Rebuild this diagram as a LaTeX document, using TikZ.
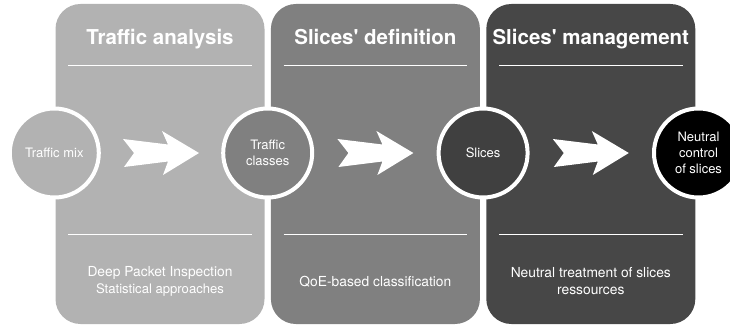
\documentclass[tikz,border=0pt]{standalone}
\usepackage{fontspec}
\setmainfont{TeX Gyre Heros}
\usetikzlibrary{positioning,calc}
\definecolor{lightpanel}{gray}{0.70}
\definecolor{midpanel}{gray}{0.50}
\definecolor{darkpanel}{gray}{0.28}
\definecolor{darkstage}{gray}{0.25}

\begin{document}
\begin{tikzpicture}[x=1pt,y=-1pt,
   panel/.style={rectangle, rounded corners=25pt, minimum width=209pt,
                 minimum height=320pt, inner sep=0pt},
   stage/.style={circle, draw=white, line width=4pt, minimum size=89pt,
                 inner sep=0pt, text=white, align=center,
                 font=\fontsize{13}{16}\selectfont},
   title/.style={text=white, anchor=base, font=\fontsize{20.5}{24}\selectfont\bfseries},
   note/.style={text=white, align=center, font=\fontsize{13.8}{17}\selectfont},
   rule/.style={draw=white, line width=1.3pt},
   chevron/.style={fill=white}]

\useasboundingbox (0,0) rectangle (730,328);

\node[panel, fill=lightpanel] (analysis) at (160,164) {};
\node[panel, fill=midpanel, right=6pt of analysis] (definition) {};
\node[panel, fill=darkpanel, right=6pt of definition] (management) {};

\node[title] (analysis-title) at ($(analysis.north)+(0,41)$) {Traffic analysis};
\node[title] (definition-title) at ($(definition.north)+(0,41)$) {Slices\textquotesingle\ definition};
\node[title] (management-title) at ($(management.north)+(0,41)$) {Slices\textquotesingle\ management};

\foreach \p in {analysis,definition,management} {
   \draw[rule] ($(\p.north west)+(13,62)$) -- ($(\p.north east)+(-13,62)$);
   \draw[rule] ($(\p.south west)+(13,-90)$) -- ($(\p.south east)+(-13,-90)$);
}

\node[note] (analysis-note) at ($(analysis.south)+(0,-43)$)
   {Deep Packet Inspection\\{\fontsize{13.1}{17}\selectfont Statistical approaches}};
\node[note] (definition-note) at ($(definition.south)+(0,-42)$) {QoE-based classification};
\node[note] (management-note) at ($(management.south)+(0,-43)$)
   {Neutral treatment of slices\\ressources};

\node[stage, fill=lightpanel] (mix) at ($(analysis.west)+(-1,-11)$) {Traffic mix};
\node[stage, fill=midpanel] (classes) at ($(analysis.east)!0.5!(definition.west)+(0,-11)$) {Traffic\\classes};
\node[stage, fill=darkstage] (slices) at ($(definition.east)!0.5!(management.west)+(0,-11)$) {Slices};
\node[stage, fill=black] (control) at ($(management.east)+(3,-11)$) {Neutral\\control\\of slices};

\foreach \a/\b in {mix/classes,classes/slices,slices/control} {
   \coordinate (\a-\b) at ($(\a)!0.5!(\b)$);
   \fill[chevron, shift={(\a-\b)}] (-38,-14) -- (7,-8.5) -- (1,-22) -- (38,0)
      -- (2,22) -- (7,8.5) -- (-37,14) -- (-27,0) -- cycle;
}

\end{tikzpicture}
\end{document}
